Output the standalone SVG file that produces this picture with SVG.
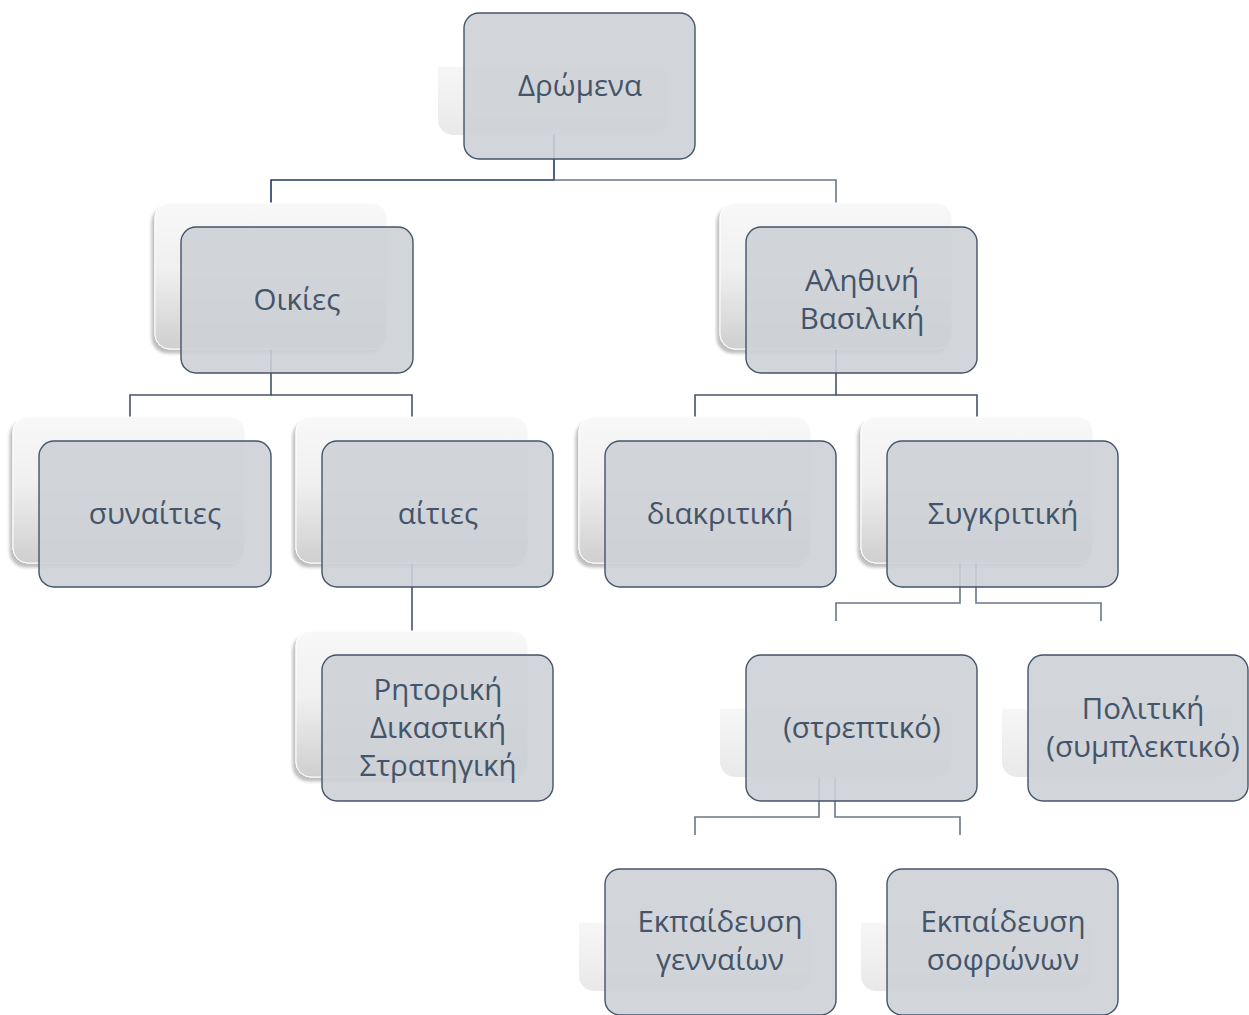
<svg xmlns="http://www.w3.org/2000/svg" width="1249" height="1015" viewBox="0 0 1249 1015">
<defs>
<linearGradient id="gFull" x1="0" y1="0" x2="0" y2="1">
<stop offset="0" stop-color="#f8f8f8"/>
<stop offset="0.45" stop-color="#f0f0f0"/>
<stop offset="1" stop-color="#cfcfcf"/>
</linearGradient>
<linearGradient id="gFaint" x1="0" y1="0" x2="0" y2="1">
<stop offset="0" stop-color="#ffffff" stop-opacity="0"/>
<stop offset="0.52" stop-color="#ffffff" stop-opacity="0"/>
<stop offset="0.54" stop-color="#f6f6f6"/>
<stop offset="1" stop-color="#e9e9e9"/>
</linearGradient>
<filter id="sh" x="-10%" y="-10%" width="120%" height="125%">
<feDropShadow dx="-3" dy="4" stdDeviation="1.6" flood-color="#000" flood-opacity="0.25"/>
</filter>
</defs>
<style>
.full{fill:url(#gFull);filter:url(#sh);stroke:#ffffff;stroke-width:1}
.faint{fill:url(#gFaint)}
.front{fill:#cdd0d5;fill-opacity:0.9;stroke:#44546a;stroke-width:1.4}
.t{font-family:"Open Sans","Noto Sans","DejaVu Sans",sans-serif;font-size:29.5px;fill:#44546a;text-anchor:middle}
.c{fill:none;stroke-width:1.6}
.cd{stroke:#203864}
.cs{stroke:#44546a}
.cg{stroke:#6b7787}
</style>
<g id="connectors">
<path class="c cd" d="M554 135 V180 H271 V203"/>
<path class="c cg" d="M554 180 H836 V203"/>
<path class="c cs" d="M271 349 V395 H130 V417"/>
<path class="c cs" d="M271 395 H412 V417"/>
<path class="c cs" d="M836 349 V395 H695 V417"/>
<path class="c cs" d="M836 395 H977 V417"/>
<path class="c cs" d="M412 563 V631"/>
<path class="c cg" d="M960 563 V603 H836 V621"/>
<path class="c cg" d="M976 563 V603 H1101 V621"/>
<path class="c cg" d="M819 777 V817 H695 V835"/>
<path class="c cg" d="M835 777 V817 H960 V835"/>
</g>
<g id="n-dromena">
<rect class="faint" x="438" y="-11" width="231" height="146" rx="15"/>
<rect class="front" x="464" y="13" width="231" height="146" rx="15"/>
<text class="t" x="580" y="96">Δρώμενα</text>
</g>
<g id="n-oikies">
<rect class="full" x="155" y="203" width="232" height="146" rx="15"/>
<rect class="front" x="181" y="227" width="232" height="146" rx="15"/>
<text class="t" x="297" y="310">Οικίες</text>
</g>
<g id="n-alethini">
<rect class="full" x="720" y="203" width="232" height="146" rx="15"/>
<rect class="front" x="746" y="227" width="231" height="146" rx="15"/>
<text class="t" x="862" y="291">Αληθινή</text>
<text class="t" x="862" y="329">Βασιλική</text>
</g>
<g id="n-synaities">
<rect class="full" x="13" y="417" width="232" height="146" rx="15"/>
<rect class="front" x="39" y="441" width="232" height="146" rx="15"/>
<text class="t" x="155" y="524">συναίτιες</text>
</g>
<g id="n-aities">
<rect class="full" x="296" y="417" width="232" height="146" rx="15"/>
<rect class="front" x="322" y="441" width="231" height="146" rx="15"/>
<text class="t" x="438" y="524">αίτιες</text>
</g>
<g id="n-diakritiki">
<rect class="full" x="579" y="417" width="232" height="146" rx="15"/>
<rect class="front" x="605" y="441" width="231" height="146" rx="15"/>
<text class="t" x="720" y="524">διακριτική</text>
</g>
<g id="n-sygkritiki">
<rect class="full" x="861" y="417" width="232" height="146" rx="15"/>
<rect class="front" x="887" y="441" width="231" height="146" rx="15"/>
<text class="t" x="1003" y="524">Συγκριτική</text>
</g>
<g id="n-rhtoriki">
<rect class="full" x="296" y="631" width="232" height="146" rx="15"/>
<rect class="front" x="322" y="655" width="231" height="146" rx="15"/>
<text class="t" x="438" y="700">Ρητορική</text>
<text class="t" x="438" y="738">Δικαστική</text>
<text class="t" x="438" y="776">Στρατηγική</text>
</g>
<g id="n-streptiko">
<rect class="faint" x="720" y="631" width="231" height="146" rx="15"/>
<rect class="front" x="746" y="655" width="231" height="146" rx="15"/>
<text class="t" x="862" y="738">(στρεπτικό)</text>
</g>
<g id="n-politiki">
<rect class="faint" x="1002" y="631" width="231" height="146" rx="15"/>
<rect class="front" x="1028" y="655" width="220" height="146" rx="15"/>
<text class="t" x="1143" y="719">Πολιτική</text>
<text class="t" x="1143" y="757">(συμπλεκτικό)</text>
</g>
<g id="n-gennaion">
<rect class="faint" x="579" y="845" width="231" height="146" rx="15"/>
<rect class="front" x="605" y="869" width="231" height="146" rx="15"/>
<text class="t" x="720" y="932">Εκπαίδευση</text>
<text class="t" x="720" y="970">γενναίων</text>
</g>
<g id="n-sofronon">
<rect class="faint" x="861" y="845" width="231" height="146" rx="15"/>
<rect class="front" x="887" y="869" width="231" height="146" rx="15"/>
<text class="t" x="1003" y="932">Εκπαίδευση</text>
<text class="t" x="1003" y="970">σοφρώνων</text>
</g>
</svg>
